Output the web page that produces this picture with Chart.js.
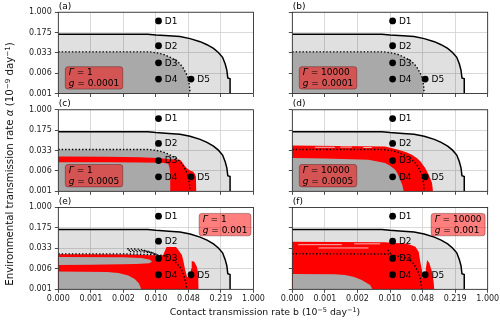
<!DOCTYPE html>
<html>
<head>
<meta charset="utf-8">
<script src="https://cdn.jsdelivr.net/npm/chart.js@4.4.1/dist/chart.umd.min.js"></script>
<style>
  html, body { margin: 0; padding: 0; background: #fff; overflow: hidden; width: 500px; height: 325px; }
  #fig { position: relative; width: 500px; height: 325px; }
  #fig canvas { position: absolute; }
  .axlab { position: absolute; font-family: 'DejaVu Sans', sans-serif; color: #111; white-space: nowrap;
    width: 260px; height: 12px; line-height: 12px; text-align: center; }
  .axlab sup { font-size: 0.7em; vertical-align: 0.45em; line-height: 0; }
  #ylab { left: -120px; top: 158px; font-size: 10.2px; transform: rotate(-90deg); }
  #xlab { left: 135px; top: 306px; font-size: 9.3px; }
</style>
</head>
<body>
<div id="fig">
  <canvas id="pa" width="272" height="100" style="left:0px;top:0px"></canvas>
  <canvas id="pb" width="248" height="100" style="left:252px;top:0px"></canvas>
  <canvas id="pc" width="272" height="100" style="left:0px;top:97px"></canvas>
  <canvas id="pd" width="248" height="100" style="left:252px;top:97px"></canvas>
  <canvas id="pe" width="272" height="116" style="left:0px;top:195px"></canvas>
  <canvas id="pf" width="248" height="116" style="left:252px;top:195px"></canvas>
  <div class="axlab" id="ylab">Environmental transmission rate <i>α</i> (10<sup>−9</sup> day<sup>−1</sup>)</div>
  <div class="axlab" id="xlab">Contact transmission rate b (10<sup>−5</sup> day<sup>−1</sup>)</div>
</div>
<script>
// Axis ticks: the scales are drawn in tick-index space, labels give the rate values
const xTickLabels = ['0.000', '0.001', '0.002', '0.010', '0.048', '0.219', '1.000'];
const yTickLabels = ['0.001', '0.006', '0.033', '0.175', '1.000'];

// Named scenarios D1..D5 (x = contact rate index, y = environmental rate index)
const pointNames = ['D1', 'D2', 'D3', 'D4', 'D5'];
const pointX = [3.08, 3.08, 3.08, 3.08, 4.08];
const pointY = [3.57, 2.35, 1.51, 0.71, 0.71];

// Outer boundary (solid line)
const solidBoundary = [[0, 2.92], [2.75, 2.92], [3.0, 2.88], [3.4, 2.84], [3.74, 2.80], [4.05, 2.70],
  [4.36, 2.55], [4.57, 2.40], [4.77, 2.22], [4.92, 2.02], [5.05, 1.78], [5.13, 1.45], [5.18, 1.15],
  [5.21, 0.76], [5.28, 0.72], [5.28, 0]];

// Inner boundary (dotted line), panels a-d
const dottedBoundary = [[0, 2.05], [2.8, 2.05], [3.03, 2.0], [3.23, 1.93], [3.44, 1.78], [3.64, 1.61],
  [3.76, 1.42], [3.85, 1.23], [3.93, 0.99], [3.98, 0.8], [4.03, 0.4], [4.05, 0]];

// Inner boundary for g = 0.001 (panels e and f)
const dottedBoundaryE = [[0, 1.73], [2.1, 1.73], [3.0, 1.69], [3.34, 1.62], [3.54, 1.43], [3.74, 1.10],
  [3.86, 0.70], [3.93, 0.21], [3.95, 0]];
const dottedHumpE1 = [[2.12, 1.98], [2.5, 1.96], [2.8, 1.84], [3.0, 1.70]];
const dottedHumpE2 = [[2.16, 1.91], [2.6, 1.89], [2.9, 1.78], [3.05, 1.68]];
const dottedHumpE3 = [[2.2, 1.84], [2.7, 1.82], [2.95, 1.74]];
const dottedBoundaryF = [[0, 1.74], [2.95, 1.72], [3.11, 1.66], [3.3, 1.6], [3.52, 1.51], [3.68, 1.35],
  [3.78, 1.10], [3.88, 0.8], [3.93, 0.54], [3.98, 0]];
const dottedSpikeF = [[2.93, 1.92], [3.06, 1.67]];

// Red regions
const redC = [[0, 1.71], [1.5, 1.70], [2.5, 1.67], [3.03, 1.63], [3.3, 1.60], [3.44, 1.57], [3.74, 1.55],
  [3.8, 1.45], [3.88, 1.25], [3.95, 1.13], [4.05, 1.02], [4.15, 0.96], [4.2, 0.85], [4.23, 0.72],
  [4.24, 0], [3.44, 0], [3.44, 0.9], [3.42, 1.13], [3.38, 1.35], [3.2, 1.40], [2.5, 1.41], [1.5, 1.42], [0, 1.43]];
const redD = [[0, 2.25], [2.85, 2.2], [3.26, 2.04], [3.5, 1.92], [3.67, 1.8], [3.83, 1.62], [3.93, 1.47],
  [4.08, 1.14], [4.19, 0.81], [4.29, 0.41], [4.32, 0], [3.42, 0], [3.38, 0.3], [3.31, 0.57], [3.24, 0.85],
  [3.16, 1.06], [3.0, 1.25], [2.85, 1.39], [2.34, 1.55], [1.0, 1.61], [0, 1.63]];
const redE = [[0, 1.71], [2.0, 1.70], [2.85, 1.66], [3.22, 1.66], [3.28, 1.9], [3.33, 2.06], [3.62, 2.06],
  [3.69, 1.92], [3.8, 1.67], [3.85, 1.35], [3.9, 0.94], [3.96, 0.6], [4.05, 0.6], [4.08, 1.0], [4.1, 1.38],
  [4.18, 1.35], [4.26, 1.1], [4.3, 0.8], [4.31, 0], [0, 0]];
const redF = [[0, 2.32], [2.85, 2.30], [3.06, 2.27], [3.47, 2.24], [3.62, 2.18], [3.78, 2.08], [3.88, 1.84],
  [3.93, 1.35], [3.98, 0.94], [4.0, 0.55], [4.08, 0.55], [4.1, 1.0], [4.14, 1.43], [4.21, 1.27],
  [4.29, 0.86], [4.34, 0.37], [4.36, 0], [0, 0]];

// Unfilled gaps along the ragged upper edge of the red regions in d and f
const gapsD = [[[0.7, 2.16], [1.31, 2.16]], [[1.47, 2.17], [1.83, 2.17]], [[2.18, 2.15], [2.44, 2.15]]];
const gapsF = [[[0.18, 2.18], [1.52, 2.18]], [[0.8, 2.02], [2.34, 2.02]], [[1.9, 2.22], [2.7, 2.22]]];

// Grey patches left inside the red regions
const greyBandE = [[0, 1.58], [2.0, 1.57], [2.55, 1.53], [2.8, 1.45], [2.88, 1.36], [2.8, 1.27], [2.4, 1.23],
  [1.0, 1.20], [0, 1.19]];
const greyLowE = [[0, 0.87], [1.5, 0.85], [1.85, 0.80], [2.15, 0.68], [2.35, 0.50], [2.48, 0.28], [2.55, 0], [0, 0]];
const greyLowF = [[0, 0.75], [1.3, 0.73], [1.62, 0.70], [1.9, 0.6], [2.13, 0.45], [2.3, 0.3], [2.39, 0.21], [2.46, 0], [0, 0]];

const LIGHT = 'rgba(0,0,0,0.12)';
const DARK = '#a9a9a9';
const RED = '#ff0000';
const GAP = 'rgba(238,238,238,0.85)';
const FONT = "'DejaVu Sans', sans-serif";

const xy = pts => pts.map(p => ({x: p[0], y: p[1]}));

function areaSet(pts, color, order) {
  return {data: xy(pts), showLine: true, fill: 'shape', backgroundColor: color,
    borderColor: 'rgba(0,0,0,0)', borderWidth: 0, pointRadius: 0, tension: 0, order};
}
function lineSet(pts, dash, order) {
  return {data: xy(pts), showLine: true, fill: false, borderColor: '#000', borderWidth: dash ? 1.4 : 1.5,
    borderDash: dash ? [1.4, 2.0] : [], borderCapStyle: 'butt', pointRadius: 0, tension: 0, order};
}
function gapSet(pts, order) {
  return {data: xy(pts), showLine: true, fill: false, borderColor: GAP, borderWidth: 0.9,
    pointRadius: 0, tension: 0, order};
}

const panels = [
  {id: 'pa', label: '(a)', gamma: '1', g: '0.0001', box: 'll', col: 0, row: 0,
    red: [], gaps: [], grey: [], inner: [dottedBoundary], innerFill: dottedBoundary},
  {id: 'pb', label: '(b)', gamma: '10000', g: '0.0001', box: 'll', col: 1, row: 0,
    red: [], gaps: [], grey: [], inner: [dottedBoundary], innerFill: dottedBoundary},
  {id: 'pc', label: '(c)', gamma: '1', g: '0.0005', box: 'll', col: 0, row: 1,
    red: [redC], gaps: [], grey: [], inner: [dottedBoundary], innerFill: dottedBoundary},
  {id: 'pd', label: '(d)', gamma: '10000', g: '0.0005', box: 'll', col: 1, row: 1,
    red: [redD], gaps: gapsD, grey: [], inner: [dottedBoundary], innerFill: dottedBoundary},
  {id: 'pe', label: '(e)', gamma: '1', g: '0.001', box: 'ur', col: 0, row: 2,
    red: [redE], gaps: [], grey: [greyBandE, greyLowE],
    inner: [dottedBoundaryE, dottedHumpE1, dottedHumpE2, dottedHumpE3], innerFill: dottedBoundaryE},
  {id: 'pf', label: '(f)', gamma: '10000', g: '0.001', box: 'ur', col: 1, row: 2,
    red: [redF], gaps: gapsF, grey: [greyLowF], inner: [dottedBoundaryF, dottedSpikeF], innerFill: dottedBoundaryF}
];

// Plot-area geometry of the 3x2 grid
const cols = [{canvasW: 272, yw: 58.3, right: 18.5}, {canvasW: 248, yw: 40.3, right: 12.3}];
const rows = [{top: 12.2, plotH: 81.3, xh: 6, canvasH: 100},
  {top: 12.8, plotH: 81.5, xh: 6, canvasH: 100},
  {top: 12.4, plotH: 81.9, xh: 20, canvasH: 116}];

// Frame, panel letter, point names and the parameter box
const panelDecor = {
  id: 'panelDecor',
  afterDraw(chart, args, opts) {
    const ctx = chart.ctx;
    const a = chart.chartArea;
    ctx.save();
    // point names
    const meta = chart.getDatasetMeta(chart.data.datasets.length - 1);
    ctx.font = '9px ' + FONT;
    ctx.fillStyle = '#000';
    ctx.textBaseline = 'middle';
    ctx.textAlign = 'left';
    meta.data.forEach((el, i) => ctx.fillText(pointNames[i], el.x + 6.3, el.y + 0.5));
    // frame
    ctx.strokeStyle = '#1e1e1e';
    ctx.lineWidth = 0.8;
    ctx.strokeRect(a.left, a.top, a.right - a.left, a.bottom - a.top);
    // panel letter
    ctx.font = '9px ' + FONT;
    ctx.textBaseline = 'alphabetic';
    ctx.fillText(opts.label, a.left + 0.5, a.top - 3.6);
    // parameter box
    const line1 = [['Γ', true], [' = ' + opts.gamma, false]];
    const line2 = [['g', true], [' = ' + opts.g, false]];
    const width = parts => parts.reduce((s, p) => {
      ctx.font = (p[1] ? 'italic ' : '') + '9px ' + FONT; return s + ctx.measureText(p[0]).width; }, 0);
    const tw = Math.max(width(line1), width(line2));
    const bw = tw + 7, bh = 22.4;
    let bx, by;
    if (opts.box === 'll') { bx = a.left + 7; by = a.bottom - 4.4 - bh; }
    else { bx = a.right - 2.6 - bw; by = a.top + 6; }
    const r = 2.6;
    ctx.beginPath();
    ctx.moveTo(bx + r, by);
    ctx.lineTo(bx + bw - r, by); ctx.quadraticCurveTo(bx + bw, by, bx + bw, by + r);
    ctx.lineTo(bx + bw, by + bh - r); ctx.quadraticCurveTo(bx + bw, by + bh, bx + bw - r, by + bh);
    ctx.lineTo(bx + r, by + bh); ctx.quadraticCurveTo(bx, by + bh, bx, by + bh - r);
    ctx.lineTo(bx, by + r); ctx.quadraticCurveTo(bx, by, bx + r, by);
    ctx.closePath();
    ctx.fillStyle = 'rgba(255,0,0,0.5)';
    ctx.fill();
    ctx.strokeStyle = 'rgba(60,0,0,0.45)';
    ctx.lineWidth = 0.8;
    ctx.stroke();
    ctx.fillStyle = '#000';
    ctx.textBaseline = 'middle';
    const drawLine = (parts, y) => {
      let x = bx + 3.5;
      parts.forEach(p => {
        ctx.font = (p[1] ? 'italic ' : '') + '9px ' + FONT;
        ctx.fillText(p[0], x, y);
        x += ctx.measureText(p[0]).width;
      });
    };
    drawLine(line1, by + 6.2);
    drawLine(line2, by + 16.8);
    ctx.restore();
  }
};

panels.forEach(p => {
  const col = cols[p.col], row = rows[p.row];
  const showX = p.row === 2, showY = p.col === 0;
  const datasets = [];
  datasets.push(areaSet(solidBoundary.concat([[0, 0]]), LIGHT, 20));
  datasets.push(areaSet(p.innerFill.concat([[0, 0]]), DARK, 19));
  p.red.forEach(r => datasets.push(areaSet(r, RED, 18)));
  p.gaps.forEach(g => datasets.push(gapSet(g, 17)));
  p.grey.forEach(g => datasets.push(areaSet(g, DARK, 16)));
  p.inner.forEach(d => datasets.push(lineSet(d, true, 6)));
  datasets.push(lineSet(solidBoundary, false, 5));
  datasets.push({data: pointX.map((x, i) => ({x, y: pointY[i]})), showLine: false,
    pointRadius: 3.4, pointBackgroundColor: '#000', pointBorderWidth: 0, order: 1});

  const bottomPad = row.canvasH - row.top - row.plotH - row.xh;
  new Chart(document.getElementById(p.id), {
    type: 'scatter',
    data: {datasets},
    plugins: [panelDecor],
    options: {
      responsive: false,
      animation: false,
      events: [],
      layout: {padding: {left: 0, top: row.top, right: col.right, bottom: bottomPad}},
      plugins: {
        legend: {display: false},
        tooltip: {enabled: false},
        panelDecor: {label: p.label, gamma: p.gamma, g: p.g, box: p.box}
      },
      scales: {
        x: {
          type: 'linear', min: 0, max: 6,
          ticks: {stepSize: 1, autoSkip: false, display: showX, maxRotation: 0,
            callback: (v, i) => xTickLabels[i], font: {family: FONT, size: 8}, color: '#222', padding: 1.5},
          grid: {color: '#d0d0d0', lineWidth: 0.8, tickColor: '#222', tickLength: 3.5, tickWidth: 0.8},
          border: {display: false},
          afterFit: s => { s.height = row.xh; s.paddingLeft = 0; s.paddingRight = 0; }
        },
        y: {
          type: 'linear', min: 0, max: 4,
          ticks: {stepSize: 1, autoSkip: false, display: showY,
            callback: (v, i) => yTickLabels[i], font: {family: FONT, size: 8}, color: '#222', padding: 3},
          grid: {color: '#d0d0d0', lineWidth: 0.8, tickColor: '#222', tickLength: 3.5, tickWidth: 0.8},
          border: {display: false},
          afterFit: s => { s.width = col.yw; s.paddingTop = 0; s.paddingBottom = 0; }
        }
      }
    }
  });
});
</script>
</body>
</html>
